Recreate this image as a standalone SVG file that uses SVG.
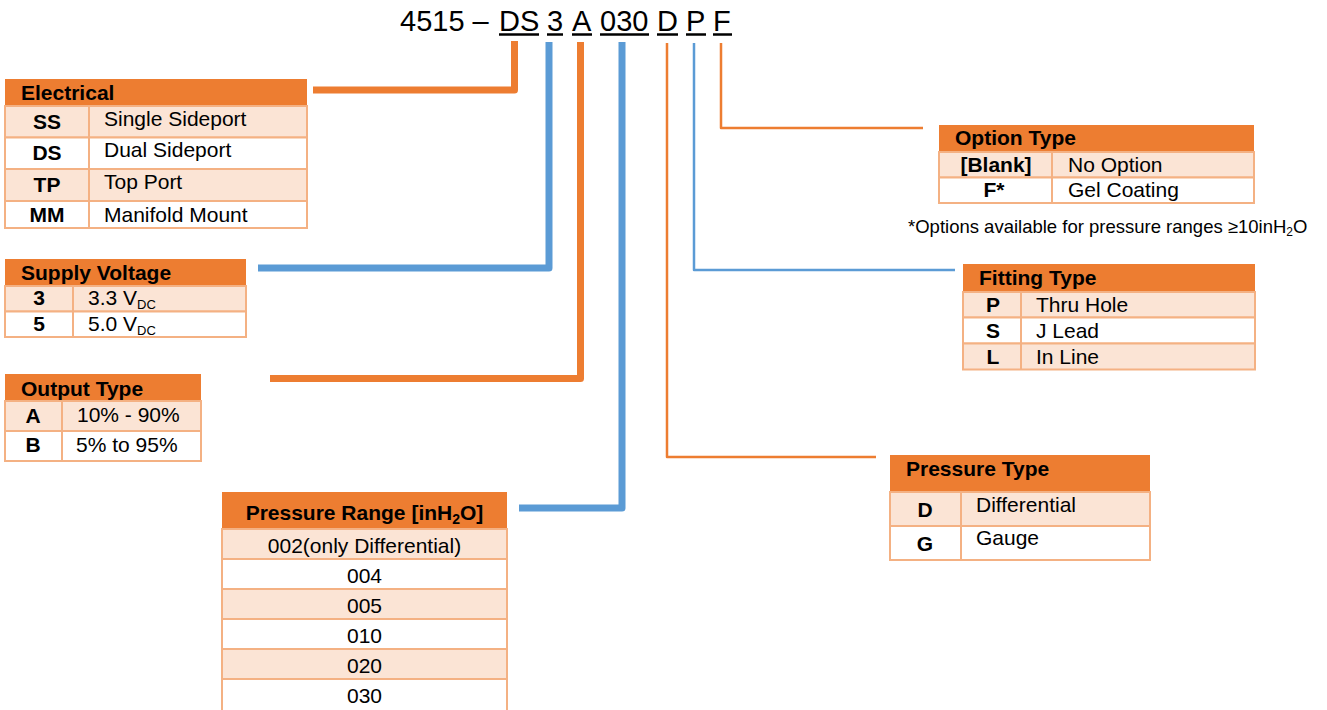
<svg xmlns="http://www.w3.org/2000/svg" width="1327" height="710" viewBox="0 0 1327 710">
<style>
.hdr{fill:#ED7D31}
.pk{fill:#FBE4D5;stroke:#F4B183;stroke-width:2}
.wh{fill:#FFFFFF;stroke:#F4B183;stroke-width:2}
.dv{stroke:#F4B183;stroke-width:2}
.ht{font-family:"Liberation Sans",Arial,sans-serif;font-weight:bold;font-size:21px;fill:#000}
.b{font-family:"Liberation Sans",Arial,sans-serif;font-weight:bold;font-size:21px;fill:#000;text-anchor:middle}
.t{font-family:"Liberation Sans",Arial,sans-serif;font-size:21px;fill:#000}
.fn{font-family:"Liberation Sans",Arial,sans-serif;font-size:18.5px;fill:#000}
.c{text-anchor:middle}
.pn{font-family:"Liberation Sans",Arial,sans-serif;font-size:29px;fill:#000}
.ul{stroke:#000;stroke-width:2.5}
.co{fill:none;stroke:#ED7D31;stroke-linejoin:round}
.cb{fill:none;stroke:#5B9BD5;stroke-linejoin:round}
.thick{stroke-width:7}
.thin{stroke-width:2.5}
</style>
<rect width="1327" height="710" fill="#FFFFFF"/>

<g id="partnumber">
<text class="pn" x="400" y="31">4515 –</text>
<text class="pn" x="499" y="31">DS</text>
<text class="pn" x="547" y="31">3</text>
<text class="pn" x="572" y="31">A</text>
<text class="pn" x="600" y="31">030</text>
<text class="pn" x="657" y="31">D</text>
<text class="pn" x="686" y="31">P</text>
<text class="pn" x="713" y="31">F</text>
<line class="ul" x1="499" y1="34.5" x2="539" y2="34.5"/>
<line class="ul" x1="547" y1="34.5" x2="563" y2="34.5"/>
<line class="ul" x1="572" y1="34.5" x2="592" y2="34.5"/>
<line class="ul" x1="600" y1="34.5" x2="649" y2="34.5"/>
<line class="ul" x1="657" y1="34.5" x2="678" y2="34.5"/>
<line class="ul" x1="686" y1="34.5" x2="706" y2="34.5"/>
<line class="ul" x1="713" y1="34.5" x2="732" y2="34.5"/>
</g>

<g id="connectors">
<polyline class="co thick" points="313,90 514.5,90 514.5,41"/>
<polyline class="cb thick" points="258,268 549,268 549,42"/>
<polyline class="co thick" points="270,378.5 580.5,378.5 580.5,42"/>
<polyline class="cb thick" points="519,508 622,508 622,42"/>
<polyline class="co thin" points="667,43 667,457 876,457"/>
<polyline class="cb thin" points="694,43 694,270 955,270"/>
<polyline class="co thin" points="721,43 721,128 923,128"/>
</g>

<g id="electrical">
<rect class="hdr" x="5" y="79" width="302" height="27"/>
<rect class="pk" x="5" y="106" width="302" height="31.5"/>
<rect class="wh" x="5" y="137.5" width="302" height="31.5"/>
<rect class="pk" x="5" y="169" width="302" height="32"/>
<rect class="wh" x="5" y="201" width="302" height="27"/>
<line class="dv" x1="89" y1="106" x2="89" y2="228"/>
<text class="ht" x="21" y="100">Electrical</text>
<text class="b" x="47" y="129">SS</text>
<text class="t" x="104" y="126">Single Sideport</text>
<text class="b" x="47" y="160">DS</text>
<text class="t" x="104" y="157">Dual Sideport</text>
<text class="b" x="47" y="192">TP</text>
<text class="t" x="104" y="189">Top Port</text>
<text class="b" x="47" y="222">MM</text>
<text class="t" x="104" y="222">Manifold Mount</text>
</g>

<g id="supply-voltage">
<rect class="hdr" x="5" y="259" width="241" height="27"/>
<rect class="pk" x="5" y="286" width="241" height="25.5"/>
<rect class="wh" x="5" y="311.5" width="241" height="25.5"/>
<line class="dv" x1="73" y1="286" x2="73" y2="337"/>
<text class="ht" x="21" y="280">Supply Voltage</text>
<text class="b" x="39" y="305">3</text>
<text class="t" x="88" y="305">3.3 V<tspan font-size="13" dy="4">DC</tspan></text>
<text class="b" x="39" y="331">5</text>
<text class="t" x="88" y="331">5.0 V<tspan font-size="13" dy="4">DC</tspan></text>
</g>

<g id="output-type">
<rect class="hdr" x="5" y="374" width="196" height="27"/>
<rect class="pk" x="5" y="401" width="196" height="30"/>
<rect class="wh" x="5" y="431" width="196" height="30"/>
<line class="dv" x1="62" y1="401" x2="62" y2="461"/>
<text class="ht" x="21" y="396">Output Type</text>
<text class="b" x="33" y="423">A</text>
<text class="t" x="77" y="422">10% - 90%</text>
<text class="b" x="33" y="452">B</text>
<text class="t" x="76" y="452">5% to 95%</text>
</g>

<g id="pressure-range">
<rect class="hdr" x="222" y="492" width="285" height="37"/>
<rect class="pk" x="222" y="529" width="285" height="30"/>
<rect class="wh" x="222" y="559" width="285" height="30"/>
<rect class="pk" x="222" y="589" width="285" height="30"/>
<rect class="wh" x="222" y="619" width="285" height="30"/>
<rect class="pk" x="222" y="649" width="285" height="30"/>
<rect class="wh" x="222" y="679" width="285" height="34"/>
<text class="b" x="364.5" y="519.5">Pressure Range [inH<tspan font-size="14" dy="4">2</tspan><tspan dy="-4">O]</tspan></text>
<text class="t c" x="364.5" y="553">002(only Differential)</text>
<text class="t c" x="364.5" y="583">004</text>
<text class="t c" x="364.5" y="613">005</text>
<text class="t c" x="364.5" y="643">010</text>
<text class="t c" x="364.5" y="673">020</text>
<text class="t c" x="364.5" y="703">030</text>
</g>

<g id="option-type">
<rect class="hdr" x="939" y="125" width="315" height="27"/>
<rect class="pk" x="939" y="152" width="315" height="25.5"/>
<rect class="wh" x="939" y="177.5" width="315" height="25.5"/>
<line class="dv" x1="1052" y1="152" x2="1052" y2="203"/>
<text class="ht" x="955" y="145">Option Type</text>
<text class="b" x="996" y="172">[Blank]</text>
<text class="t" x="1068" y="172">No Option</text>
<text class="b" x="994" y="197">F*</text>
<text class="t" x="1068" y="197">Gel Coating</text>
<text class="fn" x="908" y="233">*Options available for pressure ranges ≥10inH<tspan font-size="12" dy="3">2</tspan><tspan dy="-3">O</tspan></text>
</g>

<g id="fitting-type">
<rect class="hdr" x="963" y="264" width="292" height="28"/>
<rect class="pk" x="963" y="292" width="292" height="25.5"/>
<rect class="wh" x="963" y="317.5" width="292" height="26"/>
<rect class="pk" x="963" y="343.5" width="292" height="26"/>
<line class="dv" x1="1021" y1="292" x2="1021" y2="369.5"/>
<text class="ht" x="979" y="285">Fitting Type</text>
<text class="b" x="993" y="312">P</text>
<text class="t" x="1036" y="312">Thru Hole</text>
<text class="b" x="993" y="338">S</text>
<text class="t" x="1036" y="338">J Lead</text>
<text class="b" x="993" y="364">L</text>
<text class="t" x="1036" y="364">In Line</text>
</g>

<g id="pressure-type">
<rect class="hdr" x="890" y="455" width="260" height="37"/>
<rect class="pk" x="890" y="492" width="260" height="34"/>
<rect class="wh" x="890" y="526" width="260" height="34"/>
<line class="dv" x1="961" y1="492" x2="961" y2="560"/>
<text class="ht" x="906" y="476">Pressure Type</text>
<text class="b" x="925" y="517">D</text>
<text class="t" x="976" y="512">Differential</text>
<text class="b" x="925" y="551">G</text>
<text class="t" x="976" y="545">Gauge</text>
</g>
</svg>
